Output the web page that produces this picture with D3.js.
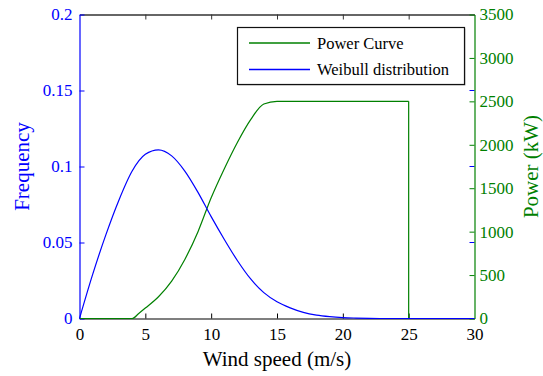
<!DOCTYPE html>
<html>
<head>
<meta charset="utf-8">
<script src="https://cdn.jsdelivr.net/npm/d3@7"></script>
<style>
  body { margin: 0; background: #fff; }
</style>
</head>
<body>
<svg id="chart" width="543" height="376"></svg>
<script>
// Wind speed samples (m/s).
var windSpeed = [0, 1, 2, 3, 4, 5, 6, 7, 8, 9, 10, 11, 12, 13, 14, 15,
                 16, 17, 18, 19, 20, 21, 22, 23, 24, 25, 26, 27, 28, 29, 30];

// Weibull distribution (frequency) at each wind speed.
var frequency = [0, 0.029, 0.055, 0.078, 0.097, 0.108, 0.111, 0.107, 0.097,
                 0.083, 0.067, 0.052, 0.038, 0.026, 0.017, 0.011, 0.007,
                 0.004, 0.0022, 0.0012, 0.0006, 0.0003, 0.0001, 0, 0, 0,
                 0, 0, 0, 0, 0];

// Power curve (kW) from 0 to 25 m/s.
var powerSpeed = [0, 1, 2, 3, 4, 4.5, 5, 6, 7, 8, 9, 10, 11, 12, 13, 14, 15,
                  16, 17, 18, 19, 20, 21, 22, 23, 24, 25];
var powerKW = [0, 0, 0, 0, 0, 58, 120, 250, 430, 680, 1000, 1390, 1725, 2030,
               2290, 2470, 2500, 2500, 2500, 2500, 2500, 2500, 2500, 2500,
               2500, 2500, 2500];
var cutOutSpeed = 25;

// Ticks.
var speedTicks = [0, 5, 10, 15, 20, 25, 30];
var freqTicks = [0, 0.05, 0.1, 0.15, 0.2];
var powerTicks = [0, 500, 1000, 1500, 2000, 2500, 3000, 3500];

// Legend entries.
var legendLabels = ['Power Curve', 'Weibull distribution'];

// Constants.
var kLeft = 79.5;
var kRight = 474.5;
var kTop = 14.5;
var kBottom = 318.5;
var kTickSize = 5;
var kBlue = '#0000ff';
var kGreen = '#008000';
var kFont = '"Liberation Serif", "Times New Roman", Times, serif';

var svg = d3.select('#chart');

var x = d3.scaleLinear().domain([0, 30]).range([kLeft, kRight]);
var yFreq = d3.scaleLinear().domain([0, 0.2]).range([kBottom, kTop]);
var yPower = d3.scaleLinear().domain([0, 3500]).range([kBottom, kTop]);

// Style an axis group: color of the line, ticks and labels.
function StyleAxis(g, color, textColor)
{
  g.attr('font-family', kFont).attr('font-size', 17);
  g.select('.domain').attr('stroke', color).attr('stroke-width', 1.2);
  g.selectAll('.tick line').attr('stroke', color);
  g.selectAll('.tick text')
    .attr('fill', textColor)
    .attr('font-family', kFont)
    .attr('font-size', 17);
}

// Top and bottom x axes.
var xBottom = svg.append('g')
  .attr('transform', 'translate(0,' + kBottom + ')')
  .call(d3.axisBottom(x).tickValues(speedTicks)
    .tickSizeInner(-kTickSize).tickSizeOuter(0).tickPadding(9)
    .tickFormat(d3.format('d')));
StyleAxis(xBottom, '#000', '#000');
xBottom.selectAll('.tick line')
  .filter(function(d) { return d == 0 || d == 30; }).remove();

var xTop = svg.append('g')
  .attr('transform', 'translate(0,' + kTop + ')')
  .call(d3.axisTop(x).tickValues(speedTicks)
    .tickSizeInner(-kTickSize).tickSizeOuter(0).tickFormat(''));
StyleAxis(xTop, '#333', '#000');
xTop.select('.domain').attr('stroke-width', 1.6);
xTop.selectAll('.tick line')
  .filter(function(d) { return d == 0 || d == 30; }).remove();

// Left axis (frequency).
var yLeft = svg.append('g')
  .attr('transform', 'translate(' + kLeft + ',0)')
  .call(d3.axisLeft(yFreq).tickValues(freqTicks)
    .tickSizeInner(-kTickSize).tickSizeOuter(0).tickPadding(7)
    .tickFormat(d3.format('~g')));
StyleAxis(yLeft, kBlue, kBlue);

// Mirror of the frequency ticks on the right side.
svg.append('g')
  .selectAll('line')
  .data(freqTicks.filter(function(d) { return d > 0 && d < 0.2; }))
  .enter().append('line')
  .attr('x1', kRight - kTickSize).attr('x2', kRight)
  .attr('y1', function(d) { return yFreq(d); })
  .attr('y2', function(d) { return yFreq(d); })
  .attr('stroke', kBlue);

// Right axis (power).
var yRight = svg.append('g')
  .attr('transform', 'translate(' + kRight + ',0)')
  .call(d3.axisRight(yPower).tickValues(powerTicks)
    .tickSizeInner(-kTickSize).tickSizeOuter(0).tickPadding(5)
    .tickFormat(d3.format('d')));
StyleAxis(yRight, kGreen, kGreen);

// Power curve.
var powerPoints = powerSpeed.map(function(v, i) { return [v, powerKW[i]]; });
var powerLine = d3.line()
  .x(function(d) { return x(d[0]); })
  .y(function(d) { return yPower(d[1]); })
  .curve(d3.curveMonotoneX);
svg.append('path')
  .datum(powerPoints)
  .attr('d', powerLine)
  .attr('fill', 'none')
  .attr('stroke', kGreen)
  .attr('stroke-width', 1.2);

// Cut-out drop.
var rated = powerKW[powerKW.length - 1];
svg.append('path')
  .datum([[cutOutSpeed, rated], [cutOutSpeed, 0]])
  .attr('d', powerLine.curve(d3.curveLinear))
  .attr('fill', 'none')
  .attr('stroke', kGreen)
  .attr('stroke-width', 1.2);

// Weibull distribution.
var freqPoints = windSpeed.map(function(v, i) { return [v, frequency[i]]; });
svg.append('path')
  .datum(freqPoints)
  .attr('d', d3.line()
    .x(function(d) { return x(d[0]); })
    .y(function(d) { return yFreq(d[1]); })
    .curve(d3.curveMonotoneX))
  .attr('fill', 'none')
  .attr('stroke', kBlue)
  .attr('stroke-width', 1.2);

// Axis titles.
svg.append('text')
  .attr('x', (kLeft + kRight) / 2)
  .attr('y', 366)
  .attr('text-anchor', 'middle')
  .attr('font-family', kFont)
  .attr('font-size', 21)
  .text('Wind speed (m/s)');

svg.append('text')
  .attr('transform', 'translate(29,' + ((kTop + kBottom) / 2) + ') rotate(-90)')
  .attr('text-anchor', 'middle')
  .attr('fill', kBlue)
  .attr('font-family', kFont)
  .attr('font-size', 21)
  .text('Frequency');

svg.append('text')
  .attr('transform', 'translate(538,' + ((kTop + kBottom) / 2) + ') rotate(-90)')
  .attr('text-anchor', 'middle')
  .attr('fill', kGreen)
  .attr('font-family', kFont)
  .attr('font-size', 21)
  .text('Power (kW)');

// Legend.
var legendColors = [kGreen, kBlue];
var legend = svg.append('g').attr('transform', 'translate(237,27)');
legend.append('rect')
  .attr('x', 1.5).attr('y', 1.5)
  .attr('width', 227).attr('height', 57)
  .attr('fill', '#bbb');
legend.append('rect')
  .attr('x', 0.5).attr('y', 0.5)
  .attr('width', 227).attr('height', 57)
  .attr('fill', '#fff')
  .attr('stroke', '#111')
  .attr('stroke-width', 1.2);
legendLabels.forEach(function(label, i) {
  var y = 16 + i * 26.5;
  legend.append('line')
    .attr('x1', 12).attr('x2', 73)
    .attr('y1', y).attr('y2', y)
    .attr('stroke', legendColors[i])
    .attr('stroke-width', 1.4);
  legend.append('text')
    .attr('x', 80)
    .attr('y', y + 5.5)
    .attr('font-family', kFont)
    .attr('font-size', 16.5)
    .text(label);
});
</script>
</body>
</html>
